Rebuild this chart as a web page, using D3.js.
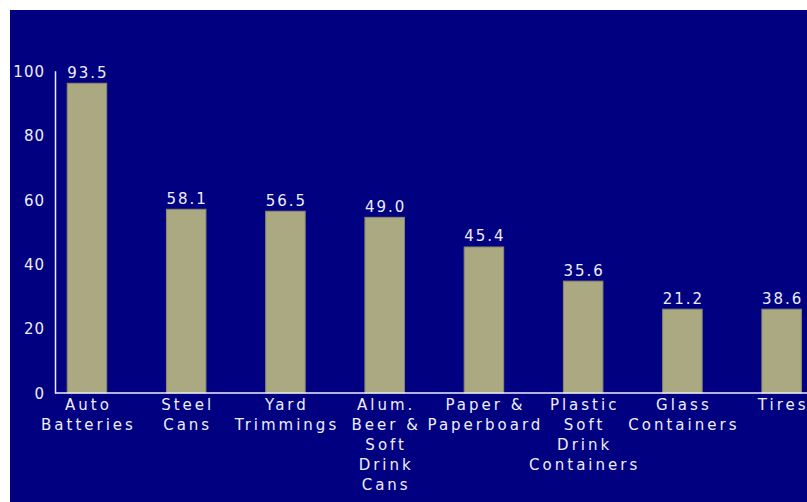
<!DOCTYPE html>
<html>
<head>
<meta charset="utf-8">
<script src="https://cdn.jsdelivr.net/npm/d3@7"></script>
<style>
  html, body { margin: 0; padding: 0; background: #ffffff; overflow: hidden; }
  svg { display: block; }
  text { font-family: "DejaVu Sans", sans-serif; fill: #eeeefa; }
</style>
</head>
<body>
<svg id="chart" width="807" height="502"></svg>
<script>
// ── Data ──
// category labels, one entry per line
const categories = [
  ["Auto", "Batteries"],
  ["Steel", "Cans"],
  ["Yard", "Trimmings"],
  ["Alum.", "Beer &", "Soft", "Drink", "Cans"],
  ["Paper &", "Paperboard"],
  ["Plastic", "Soft", "Drink", "Containers"],
  ["Glass", "Containers"],
  ["Tires"]
];
// bar heights as drawn in the original
const barValues = [96.1, 57.0, 56.4, 54.5, 45.3, 34.7, 26.0, 26.0];
// value labels printed over the bars
const valueLabels = ["93.5", "58.1", "56.5", "49.0", "45.4", "35.6", "21.2", "38.6"];
const yTicks = [0, 20, 40, 60, 80, 100];

const svg = d3.select("#chart");
const W = 807, H = 502;

// navy panel
svg.append("rect")
  .attr("x", 10).attr("y", 10)
  .attr("width", W - 10).attr("height", H - 10)
  .style("fill", "#000080");

const plot = { left: 55, top: 70.7, bottom: 393 };

const x = d3.scaleBand()
  .domain(d3.range(categories.length))
  .range([plot.left, 813.6])
  .paddingInner(0.602)
  .paddingOuter(0.123);

const y = d3.scaleLinear()
  .domain([0, 100])
  .range([plot.bottom, plot.top]);

// ── Bars ──
svg.append("g")
  .selectAll("rect")
  .data(barValues)
  .join("rect")
  .attr("x", (d, i) => x(i))
  .attr("y", d => y(d))
  .attr("width", x.bandwidth())
  .attr("height", d => y(0) - y(d))
  .style("fill", "#aaa982")
  .style("stroke", "#8c8b6a")
  .style("stroke-width", 1);

// ── Value labels ──
svg.append("g")
  .selectAll("text")
  .data(barValues)
  .join("text")
  .attr("x", (d, i) => x(i) + x.bandwidth() / 2 + 1)
  .attr("y", d => y(d) - 5.5)
  .attr("text-anchor", "middle")
  .style("font-size", "15px")
  .style("letter-spacing", "2px")
  .text((d, i) => valueLabels[i]);

// ── Y axis ──
const yAxis = svg.append("g")
  .attr("transform", `translate(${plot.left},0)`)
  .call(d3.axisLeft(y).tickValues(yTicks).tickSize(0).tickPadding(10));
yAxis.select(".domain").style("stroke", "#eeeefa").style("stroke-width", 1.5);
yAxis.selectAll("text")
  .attr("dy", "0.36em")
  .style("font-size", "15px")
  .style("letter-spacing", "1px")
  .style("fill", "#eeeefa");

// ── X axis (line only, labels drawn by hand for line breaks) ──
const xAxis = svg.append("g")
  .attr("transform", `translate(0,${plot.bottom})`)
  .call(d3.axisBottom(x).tickSize(0).tickSizeOuter(0).tickFormat(""));
xAxis.select(".domain")
  .attr("d", `M${plot.left},0H${W}`)
  .style("stroke", "#eeeefa").style("stroke-width", 1.5);

const catLabels = svg.append("g")
  .selectAll("text")
  .data(categories)
  .join("text")
  .attr("text-anchor", "middle")
  .style("font-size", "15px")
  .style("letter-spacing", "3px");

catLabels.selectAll("tspan")
  .data((d, i) => d.map(line => ({ line, i })))
  .join("tspan")
  .attr("x", d => x(d.i) + x.bandwidth() / 2 + 1.5)
  .attr("y", (d, j) => 410 + j * 20)
  .text(d => d.line);
</script>
</body>
</html>
